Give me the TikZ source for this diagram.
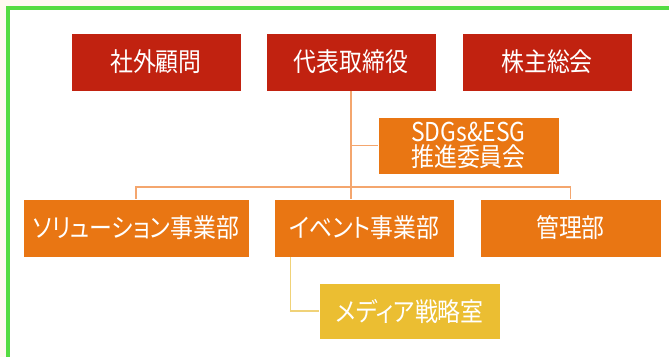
\documentclass[tikz,border=0pt]{standalone}
\usepackage{fontspec}
\setmainfont[RawFeature=+palt,FakeStretch=0.88]{Noto Sans CJK JP}
\usepackage{tikz}
\usetikzlibrary{positioning}
\definecolor{boardred}{RGB}{193,34,16}
\definecolor{deptorange}{RGB}{233,118,19}
\definecolor{officeyellow}{RGB}{235,190,50}
\definecolor{lineorange}{RGB}{244,166,110}
\definecolor{lineyellow}{RGB}{240,210,120}
\definecolor{framegreen}{RGB}{85,220,65}
\definecolor{paper}{RGB}{255,249,240}
\tikzset{
  unit/.style={rectangle,draw=white,line width=0.6pt,text=white,inner sep=0pt,
    font=\fontsize{19.5}{20}\selectfont,align=center},
  board/.style={unit,fill=boardred,minimum width=127.5pt,minimum height=43.5pt},
  dept/.style={unit,fill=deptorange,minimum height=43.5pt},
  office/.style={unit,fill=officeyellow,minimum height=42pt},
  conn/.style={lineorange,line width=1.1pt},
  yconn/.style={lineyellow,line width=1.1pt}
}
\begin{document}
\begin{tikzpicture}[x=0.75pt,y=-0.75pt]
\useasboundingbox (0,0) rectangle (669,357);
\fill[paper] (0,0) rectangle (669,357);
\fill[white] (8,8) rectangle (669,357);
\draw[framegreen,line width=2.3pt] (8,357) -- (8,8) -- (669,8);
\node[board] (gaibu) at (156,62) {社外顧問};
\node[board] (daihyo) at (351,62) {代表取締役};
\node[board] (kabunushi) at (547,62) {株主総会};
\node[dept,minimum width=135.75pt,minimum height=42.75pt] (sdgs) at (468.5,145.5) {SDGs\&ESG\\[-1pt]推進委員会};
\node[dept,minimum width=169.5pt] (solution) at (136,228) {ソリューション事業部};
\node[dept,minimum width=135pt] (event) at (364,228) {イベント事業部};
\node[dept,minimum width=135.75pt] (kanri) at (570.5,228) {管理部};
\node[office,minimum width=135.75pt] (media) at (410,311) {メディア戦略室};
\coordinate (bus) at (352,187);
\draw[conn] (daihyo.south) -- (daihyo.south |- event.north);
\draw[conn] (daihyo.south |- sdgs.west) -- (sdgs.west);
\draw[conn] (solution.north) |- (bus) -| (kanri.north);
\draw[yconn] (event.south west) ++(17,0) |- (media.west);
\end{tikzpicture}
\end{document}
